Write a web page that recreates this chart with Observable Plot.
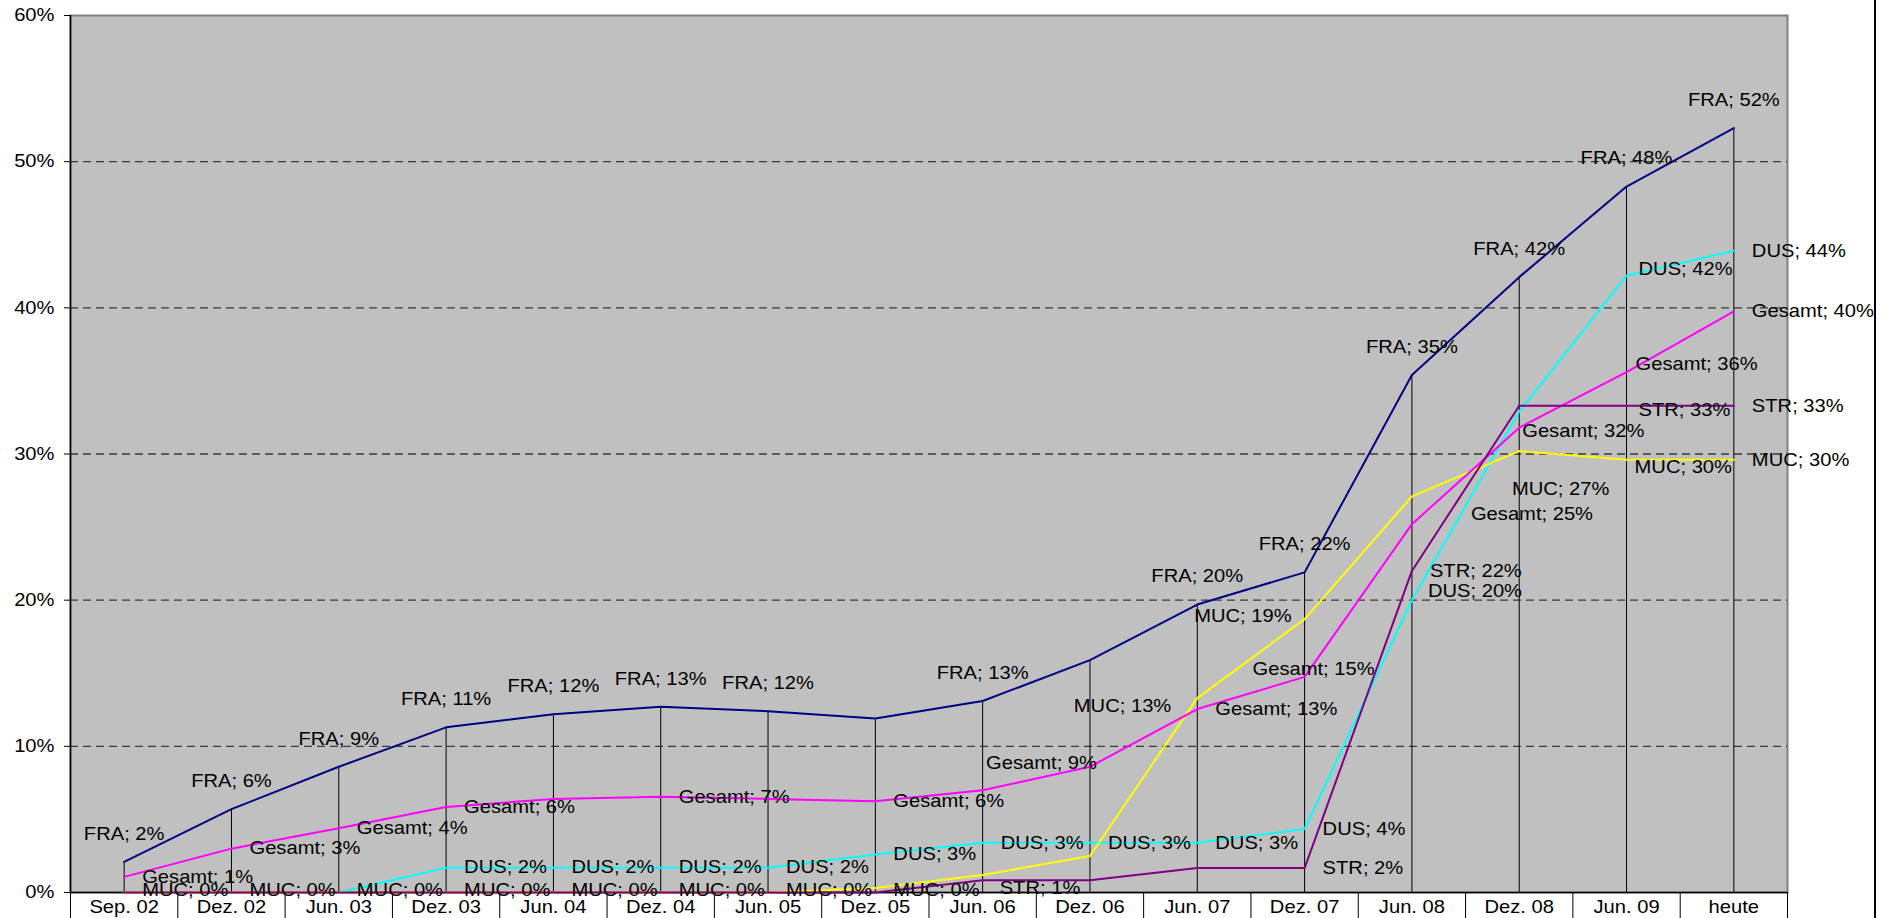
<!DOCTYPE html>
<html><head><meta charset="utf-8">
<script src="https://cdn.jsdelivr.net/npm/d3@7"></script>
<script src="https://cdn.jsdelivr.net/npm/@observablehq/plot@0.6"></script>
<style>
html,body{margin:0;padding:0;background:#fff;}
#wrap{position:relative;width:1892px;height:918px;overflow:hidden;background:#fff;}
#edge{position:absolute;left:1874px;top:0;width:2px;height:918px;background:#000;}
</style></head><body>
<div id="wrap"><div id="edge"></div></div>
<script>
// ---- data ----
const categories = ["Sep. 02","Dez. 02","Jun. 03","Dez. 03","Jun. 04","Dez. 04","Jun. 05","Dez. 05","Jun. 06","Dez. 06","Jun. 07","Dez. 07","Jun. 08","Dez. 08","Jun. 09","heute"];
const FRA    = [2.1, 5.7, 8.6, 11.3, 12.2, 12.7, 12.4, 11.9, 13.1, 15.9, 19.7, 21.9, 35.4, 42.1, 48.3, 52.3];
const Gesamt = [1.07, 3.0, 4.4, 5.85, 6.4, 6.55, 6.4, 6.25, 7.0, 8.6, 12.55, 14.75, 25.2, 31.8, 35.6, 39.75];
const DUS    = [null, null, 0, 1.7, 1.7, 1.7, 1.7, 2.6, 3.4, 3.4, 3.4, 4.35, 20.0, 32.9, 42.2, 43.9];
const MUC    = [0, 0, 0, 0, 0, 0, 0, 0.3, 1.2, 2.5, 13.3, 18.7, 27.1, 30.2, 29.6, 29.6];
const STR    = [0, 0, 0, 0, 0, 0, 0, 0, 0.83, 0.83, 1.67, 1.67, 22.0, 33.3, 33.3, 33.3];
const seriesNames = ["FRA", "Gesamt", "DUS", "MUC", "STR"];
const yTicks = [0, 10, 20, 30, 40, 50, 60];
const gridValues = [10, 20, 30, 40, 50];
// labels that are not shown in the original (by category index)
const hiddenLabels = {FRA: [7, 9], Gesamt: [4, 6, 8], DUS: [2, 13], MUC: [8, 9, 13], STR: [0, 1, 2, 3, 4, 5, 6, 7, 9, 10, 13]};

// ---- styles ----
const colors = {FRA: "#000080", Gesamt: "#FF00FF", DUS: "#00FFFF", MUC: "#FFFF00", STR: "#800080"};
const drawOrder = ["DUS", "MUC", "Gesamt", "FRA", "STR"];
const defaultLabel = {
  FRA: {anchor: "middle", dx: 0, dy: -28},
  Gesamt: {anchor: "start", dx: 18, dy: 0},
  DUS: {anchor: "start", dx: 18, dy: 0},
  MUC: {anchor: "start", dx: 18, dy: -2},
  STR: {anchor: "start", dx: 18, dy: 0}
};
const labelNudge = {
  "Gesamt|9": {anchor: "end", dx: 7, dy: -4},
  "Gesamt|11": {anchor: "middle", dx: 9, dy: -8},
  "Gesamt|12": {anchor: "start", dx: 59, dy: -10},
  "Gesamt|13": {anchor: "start", dx: 3, dy: 4},
  "Gesamt|14": {anchor: "start", dx: 9, dy: -8},
  "DUS|12": {anchor: "start", dx: 16, dy: -9},
  "DUS|14": {anchor: "start", dx: 12, dy: -6},
  "STR|8": {anchor: "start", dx: 17, dy: 8},
  "STR|14": {anchor: "start", dx: 12, dy: 4},
  "MUC|7": {anchor: "start", dx: 18, dy: 2},
  "MUC|10": {anchor: "end", dx: -26, dy: 8},
  "MUC|11": {anchor: "end", dx: -13, dy: -3},
  "MUC|12": {anchor: "start", dx: 100, dy: -7},
  "MUC|14": {anchor: "start", dx: 8, dy: 7},
  "MUC|15": {anchor: "start", dx: 18, dy: 0}
};

const seriesValues = {FRA, Gesamt, DUS, MUC, STR};
const rows = [];
for (const name of seriesNames) {
  seriesValues[name].forEach((v, i) => { if (v != null) rows.push({series: name, i, value: v}); });
}
const indices = categories.map((c, i) => i);
const separators = d3.range(categories.length + 1).map(i => i - 0.5);
const tops = indices.map(i => ({i, top: d3.max(seriesNames, n => seriesValues[n][i] ?? 0)}));

const labelMarks = rows
  .filter(r => !(hiddenLabels[r.series] || []).includes(r.i))
  .map(r => {
    const s = labelNudge[r.series + "|" + r.i] || defaultLabel[r.series];
    return Plot.text([r], {
      x: "i", y: "value",
      text: d => `${d.series}; ${Math.round(d.value)}%`,
      textAnchor: s.anchor, dx: s.dx, dy: s.dy, fill: "#000"
    });
  });

const svg = Plot.plot({
  width: 1892, height: 918,
  marginTop: 15, marginBottom: 26, marginLeft: 70, marginRight: 105,
  x: {type: "linear", domain: [-0.5, categories.length - 0.5], label: null},
  y: {domain: [0, 60], label: null},
  style: {fontFamily: "'Liberation Sans', Arial, sans-serif", fontSize: "18px", background: "transparent", color: "#000"},
  marks: [
    Plot.frame({fill: "#C0C0C0", stroke: "#808080", strokeWidth: 2}),
    Plot.ruleY(gridValues, {stroke: "#222", strokeOpacity: 0.85, strokeDasharray: "8,5", strokeWidth: 1.3}),
    Plot.ruleX(tops, {x: "i", y1: 0, y2: "top", stroke: "#000", strokeWidth: 1}),
    Plot.axisY({ticks: yTicks, tickSize: 6, tickPadding: 10, tickFormat: d => d + "%", fontSize: 18, label: null}),
    Plot.axisX({ticks: separators, tickSize: 26, tickFormat: () => "", label: null}),
    Plot.text(indices, {x: d => d, text: d => categories[d], frameAnchor: "bottom", lineAnchor: "middle", dy: 15, fill: "#000"}),
    Plot.ruleY([0], {stroke: "#000", strokeWidth: 1.5}),
    Plot.ruleX([-0.5], {stroke: "#000", strokeWidth: 1.5}),
    ...drawOrder.map(n => Plot.line(rows.filter(r => r.series === n), {x: "i", y: "value", stroke: colors[n], strokeWidth: 2})),
    ...labelMarks
  ]
});

svg.querySelectorAll("text").forEach(t => {
  const tr = t.getAttribute("transform");
  if (tr) t.setAttribute("transform", tr + " scale(1.12,1)");
});
document.getElementById("wrap").prepend(svg);
</script>
</body></html>
